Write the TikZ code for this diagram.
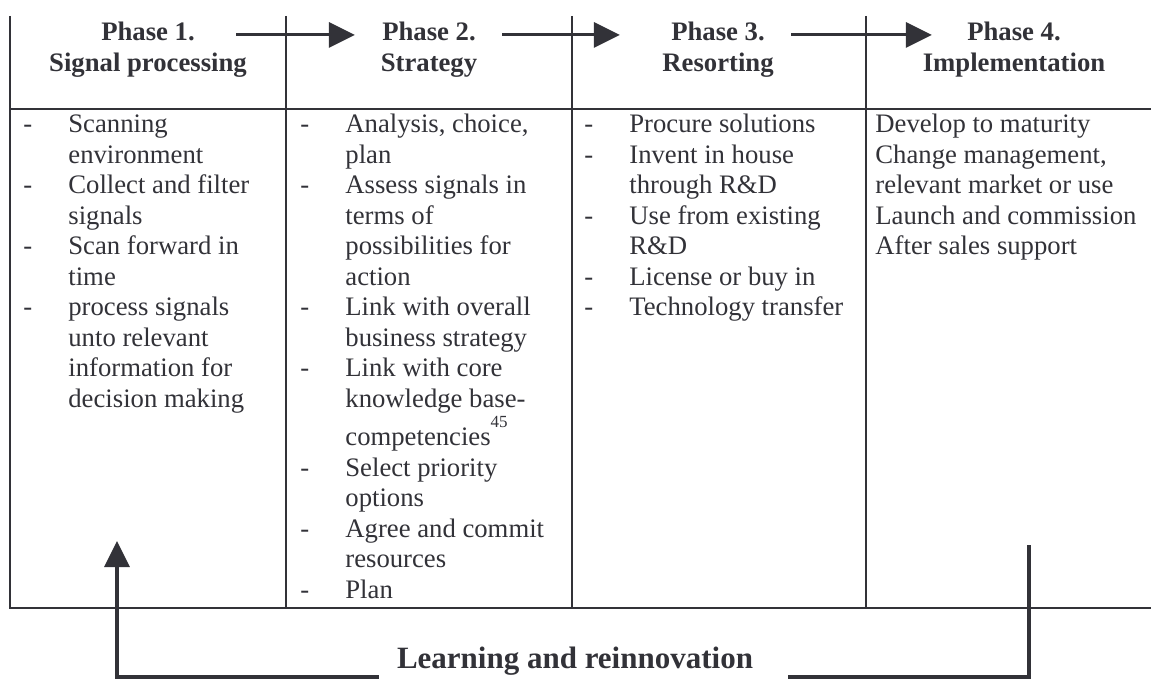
\documentclass[tikz,border=0pt]{standalone}
\usepackage{fontspec}
\setmainfont{Liberation Serif}
\usetikzlibrary{arrows.meta,positioning}
\definecolor{ink}{RGB}{50,50,56}
\tikzset{>={Triangle[length=13pt,width=12.5pt]}}
\tikzset{
  phasehead/.style={font=\fontsize{13.35}{15.25}\selectfont\bfseries, text=ink, inner sep=0pt, anchor=base},
  celltext/.style={font=\fontsize{13.35}{15.25}\selectfont, text=ink, inner sep=0pt, anchor=base west},
  tableline/.style={draw=ink, line width=1pt},
  phasearrow/.style={draw=ink, line width=1.5pt, ->},
  loopline/.style={draw=ink, line width=1.75pt},
}
\newcommand{\dashlist}[1]{\begin{tabular}[t]{@{}p{22.5pt}@{}l@{}}#1\end{tabular}}

\begin{document}
\begin{tikzpicture}[x=0.5pt,y=-0.5pt]
  \useasboundingbox (0,0) rectangle (1151,679);
  % table
  \draw[tableline] (10,16) -- (10,608) -- (1151,608);
  \draw[tableline] (10,109) -- (1151,109);
  \foreach \x in {286,572,866}
    \draw[tableline] (\x,16) -- (\x,608);

  % phase headings
  \node[phasehead] (p1) at (148,41) {Phase 1.};
  \node[phasehead] (s1) at (148,72) {Signal processing};
  \node[phasehead] (p2) at (429,41) {Phase 2.};
  \node[phasehead] (s2) at (429,72) {Strategy};
  \node[phasehead] (p3) at (718,41) {Phase 3.};
  \node[phasehead] (s3) at (718,72) {Resorting};
  \node[phasehead] (p4) at (1014,41) {Phase 4.};
  \node[phasehead] (s4) at (1014,72) {Implementation};
  \draw[phasearrow, shorten <=20.5pt, shorten >=13.5pt] ([yshift=-1.5pt]p1.east) -- ([yshift=-1.5pt]p2.west);
  \draw[phasearrow, shorten <=13pt, shorten >=25.5pt] ([yshift=-1.5pt]p2.east) -- ([yshift=-1.5pt]p3.west);
  \draw[phasearrow, shorten <=13pt, shorten >=17.5pt] ([yshift=-1.5pt]p3.east) -- ([yshift=-1.5pt]p4.west);

  % activities
  \node[celltext] (c1) at (23,133) {\dashlist{%
    - & Scanning\\
      & environment\\
    - & Collect and filter\\
      & signals\\
    - & Scan forward in\\
      & time\\
    - & process signals\\
      & unto relevant\\
      & information for\\
      & decision making}};
  \node[celltext] (c2) at (300,133) {\dashlist{%
    - & Analysis, choice,\\
      & plan\\
    - & Assess signals in\\
      & terms of\\
      & possibilities for\\
      & action\\
    - & Link with overall\\
      & business strategy\\
    - & Link with core\\
      & knowledge base-\\
      & competencies\raisebox{9pt}{\fontsize{8.5}{9}\selectfont 45}\\
    - & Select priority\\
      & options\\
    - & Agree and commit\\
      & resources\\
    - & Plan}};
  \node[celltext] (c3) at (584,133) {\dashlist{%
    - & Procure solutions\\
    - & Invent in house\\
      & through R\&D\\
    - & Use from existing\\
      & R\&D\\
    - & License or buy in\\
    - & Technology transfer}};
  \node[celltext] (c4) at (875,133) {\begin{tabular}[t]{@{}l@{}}
    Develop to maturity\\
    Change management,\\
    relevant market or use\\
    Launch and commission\\
    After sales support
  \end{tabular}};

  % feedback loop
  \node[phasehead, font=\fontsize{15.5}{18}\selectfont\bfseries] (learn) at (575,668) {Learning and reinnovation};
  \coordinate (fbL) at (117,677);
  \coordinate (fbR) at (1029,677);
  \coordinate (fbtip) at (117,541);
  \coordinate (fbtop) at (1029,545);
  \draw[loopline, ->] ([xshift=-9pt]learn.west |- fbL) -- (fbL) -- (fbtip);
  \draw[loopline] ([xshift=17.5pt]learn.east |- fbR) -- (fbR) -- (fbtop);
\end{tikzpicture}
\end{document}
